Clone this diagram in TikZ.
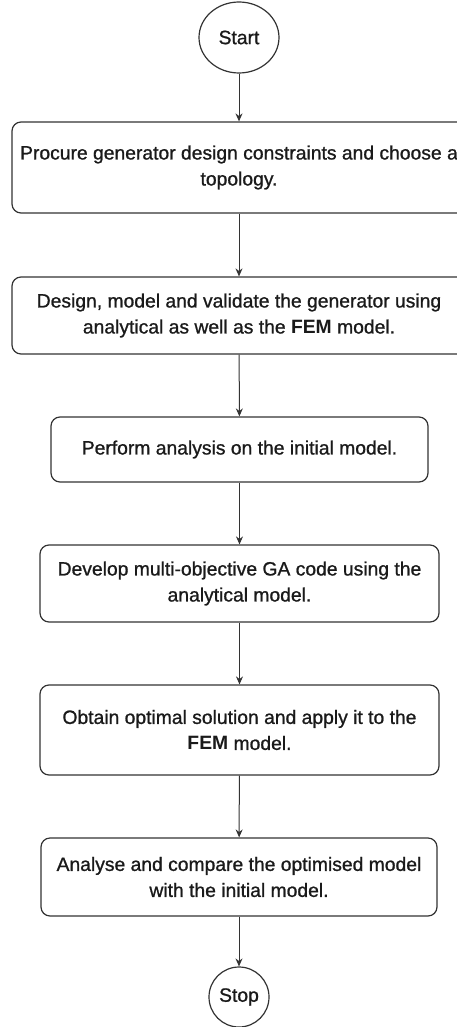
\documentclass[tikz,border=0pt]{standalone}
\usepackage{fontspec}
\setmainfont{Liberation Sans}[UprightFeatures={FakeBold=1}]
\usetikzlibrary{arrows.meta,shapes.geometric}
\definecolor{Ink}     {HTML}{1A1A1A}
\definecolor{EdgeGrey}{HTML}{333333}

\begin{document}
\begin{tikzpicture}[x=1pt, y=-1pt,
  font=\fontsize{19.3}{26}\selectfont,
  stepbox/.style={draw=EdgeGrey, line width=1.2pt, rounded corners=9pt,
                  align=center, text=Ink, inner sep=0pt},
  term/.style={draw=EdgeGrey, line width=1.2pt, inner sep=0pt, text=Ink},
  flow/.style={-{Stealth[length=8pt,width=7pt]}, line width=1pt, EdgeGrey}]

  % ===== PAGE =====
  \clip (0,0) rectangle (457,1027);

  % ===== TERMINALS =====
  \node[term, ellipse, minimum width=80, minimum height=71] (start) at (239,37.5) {Start};
  \node[term, circle, minimum size=60] (stop) at (239,997) {Stop};

  % ===== STEPS =====
  \node[stepbox, minimum width=454, minimum height=91] (procure) at (239,167.5)
        {Procure generator design constraints and choose a\\topology.};
  \node[stepbox, minimum width=454, minimum height=77] (design) at (239,315.5)
        {Design, model and validate the generator using\\analytical as well as the \textbf{FEM} model.};
  \node[stepbox, minimum width=377, minimum height=65] (analysis) at (239.5,449.5)
        {Perform analysis on the initial model.};
  \node[stepbox, minimum width=399, minimum height=77] (gacode) at (239.5,583.5)
        {Develop multi-objective GA code using the\\analytical model.};
  \node[stepbox, minimum width=399, minimum height=90] (optimal) at (239.5,730)
        {Obtain optimal solution and apply it to the\\\textbf{FEM} model.};
  \node[stepbox, minimum width=396, minimum height=78] (compare) at (239,877)
        {Analyse and compare the optimised model\\with the initial model.};

  % ===== CONNECTORS =====
  \draw[flow] (start) -- (procure);
  \draw[flow] (procure) -- (design);
  \draw[flow] (design) -- (analysis);
  \draw[flow] (analysis) -- (gacode);
  \draw[flow] (gacode) -- (optimal);
  \draw[flow] (optimal) -- (compare);
  \draw[flow] (compare) -- (stop);

\end{tikzpicture}
\end{document}
